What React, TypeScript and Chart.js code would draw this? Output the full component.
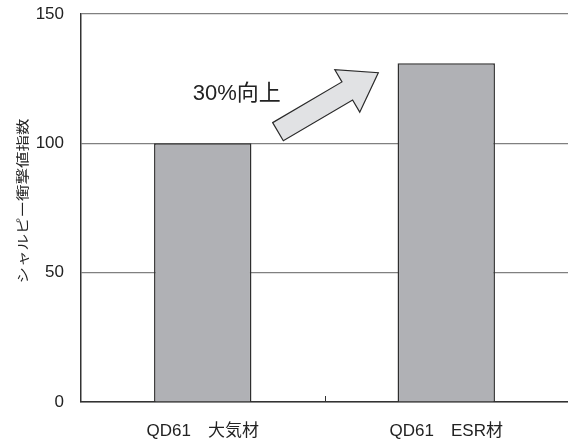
import { useEffect, useRef } from "react";
import { Chart, registerables } from "chart.js";

Chart.register(...registerables);

const categories = ["QD61　大気材", "QD61　ESR材"];
const values = [100, 131];
const yMin = 0;
const yMax = 150;
const yStep = 50;
const yTitle = "シャルピー衝撃値指数";
const annotationText = "30%向上";
// annotation positions in data units (x: category index, y: value)
const arrowTail = { x: 0.309, y: 104.5 };
const arrowTip = { x: 0.721, y: 127.3 };
const textPos = { x: 0.14, y: 119 };

const FONT = '"Liberation Sans", "Noto Sans CJK JP", sans-serif';

const overlayPlugin = {
  id: "overlay",
  afterDraw(chart: any) {
    const { ctx, scales } = chart;
    const x = scales.x;
    const y = scales.y;
    ctx.save();
    // middle category tick pointing up
    const mx = Math.round(x.getPixelForValue(0.5)) + 0.5;
    const by = y.getPixelForValue(0);
    ctx.strokeStyle = "#333";
    ctx.lineWidth = 1;
    ctx.beginPath();
    ctx.moveTo(mx, by);
    ctx.lineTo(mx, by - 6);
    ctx.stroke();

    // arrow
    const tx = x.getPixelForValue(arrowTail.x);
    const ty = y.getPixelForValue(arrowTail.y);
    const hx = x.getPixelForValue(arrowTip.x);
    const hy = y.getPixelForValue(arrowTip.y);
    const dx = hx - tx;
    const dy = hy - ty;
    const L = Math.hypot(dx, dy);
    const ux = dx / L;
    const uy = dy / L;
    const nx = uy;
    const ny = -ux;
    const headLen = 36;
    const sh = 10.5;
    const hh = 24.6;
    const bx = hx - ux * headLen;
    const byy = hy - uy * headLen;
    ctx.beginPath();
    ctx.moveTo(tx + nx * sh, ty + ny * sh);
    ctx.lineTo(bx + nx * sh, byy + ny * sh);
    ctx.lineTo(bx + nx * hh, byy + ny * hh);
    ctx.lineTo(hx, hy);
    ctx.lineTo(bx - nx * hh, byy - ny * hh);
    ctx.lineTo(bx - nx * sh, byy - ny * sh);
    ctx.lineTo(tx - nx * sh, ty - ny * sh);
    ctx.closePath();
    ctx.fillStyle = "#e1e2e4";
    ctx.fill();
    ctx.strokeStyle = "#2a2a2a";
    ctx.lineWidth = 1.2;
    ctx.stroke();

    // annotation text
    ctx.fillStyle = "#222";
    ctx.font = `22px ${FONT}`;
    ctx.textAlign = "center";
    ctx.textBaseline = "middle";
    ctx.fillText(annotationText, x.getPixelForValue(textPos.x), y.getPixelForValue(textPos.y));

    // y title
    ctx.translate(22, 201);
    ctx.rotate(-Math.PI / 2);
    ctx.scale(1, 0.78);
    ctx.font = `16.5px "Noto Sans CJK JP", sans-serif`;
    ctx.fillStyle = "#222";
    ctx.fillText(yTitle, 0, 0);
    ctx.restore();
  },
};

export default function App() {
  const ref = useRef<HTMLCanvasElement>(null);
  useEffect(() => {
    document.body.style.margin = "0";
    const chart = new Chart(ref.current!, {
      type: "bar",
      data: {
        labels: categories,
        datasets: [
          {
            data: values,
            backgroundColor: "#b0b1b5",
            borderColor: "#2e2e2e",
            borderWidth: 1.5,
            barPercentage: 0.8,
            categoryPercentage: 0.5,
          },
        ],
      },
      options: {
        animation: false,
        responsive: false,
        maintainAspectRatio: false,
        layout: { padding: { top: 14, right: 0, left: 0, bottom: 0 } },
        plugins: { legend: { display: false }, tooltip: { enabled: false } },
        scales: {
          x: {
            grid: { display: false, drawTicks: false },
            border: { color: "#333", width: 1.5 },
            ticks: {
              color: "#222",
              font: { family: FONT, size: 17 },
              padding: 19,
            },
            afterFit(scale: any) {
              scale.height = 41;
              scale.paddingLeft = 0;
              scale.paddingRight = 0;
            },
          },
          y: {
            min: yMin,
            max: yMax,
            grid: { color: "#808080", drawTicks: false, lineWidth: 1.2 },
            border: { color: "#333", width: 1.5 },
            ticks: {
              stepSize: yStep,
              color: "#222",
              font: { family: FONT, size: 17 },
              padding: 17,
            },
            afterFit(scale: any) {
              scale.width = 81;
              scale.paddingTop = 0;
              scale.paddingBottom = 0;
            },
          },
        },
      },
      plugins: [overlayPlugin],
    });
    return () => chart.destroy();
  }, []);
  return (
    <div style={{ width: 568, height: 443 }}>
      <canvas ref={ref} width={568} height={443} />
    </div>
  );
}
